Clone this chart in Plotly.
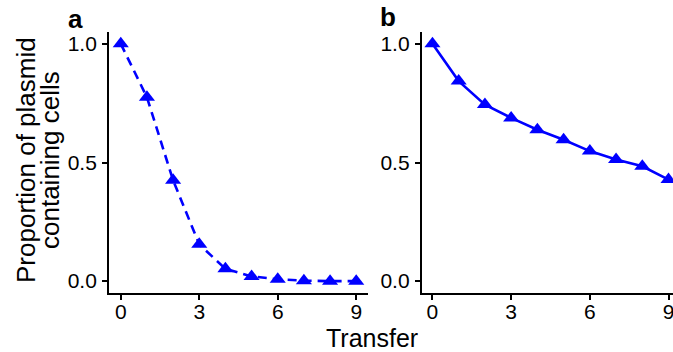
import plotly.graph_objects as go

transfer = [0, 1, 2, 3, 4, 5, 6, 7, 8, 9]
prop_a = [1.0, 0.775, 0.425, 0.155, 0.052, 0.02, 0.008, 0.002, 0.0, 0.0]
prop_b = [1.0, 0.843, 0.744, 0.688, 0.638, 0.596, 0.548, 0.513, 0.484, 0.428]
y_ticks = [0.0, 0.5, 1.0]
y_ticktext = ["0.0", "0.5", "1.0"]
x_ticks = [0, 3, 6, 9]

BLUE = "#0000FF"
FONT = "Liberation Sans, Arial, sans-serif"

fig = go.Figure()
fig.add_trace(go.Scatter(
    x=transfer, y=prop_a, mode="lines+markers",
    line=dict(color=BLUE, width=2.6, dash="9px,6px"),
    marker=dict(symbol="triangle-up", size=14, color=BLUE),
    xaxis="x", yaxis="y", showlegend=False))
fig.add_trace(go.Scatter(
    x=transfer, y=prop_b, mode="lines+markers",
    line=dict(color=BLUE, width=2.6),
    marker=dict(symbol="triangle-up", size=14, color=BLUE),
    xaxis="x2", yaxis="y2", showlegend=False))

W, H = 673, 352
ydom = [1 - 293 / H, 1 - 32 / H]

axis_common = dict(
    showline=True, linecolor="black", linewidth=1.8,
    ticks="outside", ticklen=5, tickwidth=1.8, tickcolor="black",
    showgrid=False, zeroline=False, automargin=False,
    ticklabeloverflow="allow",
    tickfont=dict(family=FONT, size=21, color="black"),
)

fig.update_layout(
    template="none",
    width=W, height=H,
    margin=dict(l=0, r=0, t=0, b=0),
    paper_bgcolor="white", plot_bgcolor="white",
    xaxis=dict(domain=[109 / W, 368 / W], range=[-0.45, 9.45],
               tickvals=x_ticks, anchor="y", ticklabelstandoff=-6, **axis_common),
    yaxis=dict(domain=ydom, range=[-0.05, 1.05], tickvals=y_ticks,
               ticktext=y_ticktext, anchor="x", ticklabelstandoff=1, **axis_common),
    xaxis2=dict(domain=[421.7 / W, 1.0], range=[-0.41, 9.17],
                tickvals=x_ticks, anchor="y2", ticklabelstandoff=-6, **axis_common),
    yaxis2=dict(domain=ydom, range=[-0.05, 1.05], tickvals=y_ticks,
                ticktext=y_ticktext, anchor="x2", ticklabelstandoff=1, **axis_common),
)

annotations = [
    dict(text="Transfer", x=371.5 / W, y=1 - 338 / H, xref="paper", yref="paper",
         xanchor="center", yanchor="middle", showarrow=False,
         font=dict(family=FONT, size=25, color="black")),
    dict(text="Proportion of plasmid", x=26 / W, y=1 - 160 / H, xref="paper", yref="paper",
         xanchor="center", yanchor="middle", textangle=-90, showarrow=False,
         font=dict(family=FONT, size=26, color="black")),
    dict(text="containing cells", x=50 / W, y=1 - 160 / H, xref="paper", yref="paper",
         xanchor="center", yanchor="middle", textangle=-90, showarrow=False,
         font=dict(family=FONT, size=26, color="black")),
    dict(text="<b>a</b>", x=75.5 / W, y=1 - 19 / H, xref="paper", yref="paper",
         xanchor="center", yanchor="middle", showarrow=False,
         font=dict(family=FONT, size=26, color="black")),
    dict(text="<b>b</b>", x=388.5 / W, y=1 - 17 / H, xref="paper", yref="paper",
         xanchor="center", yanchor="middle", showarrow=False,
         font=dict(family=FONT, size=26, color="black")),
]
fig.update_layout(annotations=annotations)

fig.write_html(
    "out.html",
    config={"displayModeBar": False},
    post_script="document.body.style.margin='0';document.body.style.overflow='hidden';",
)
